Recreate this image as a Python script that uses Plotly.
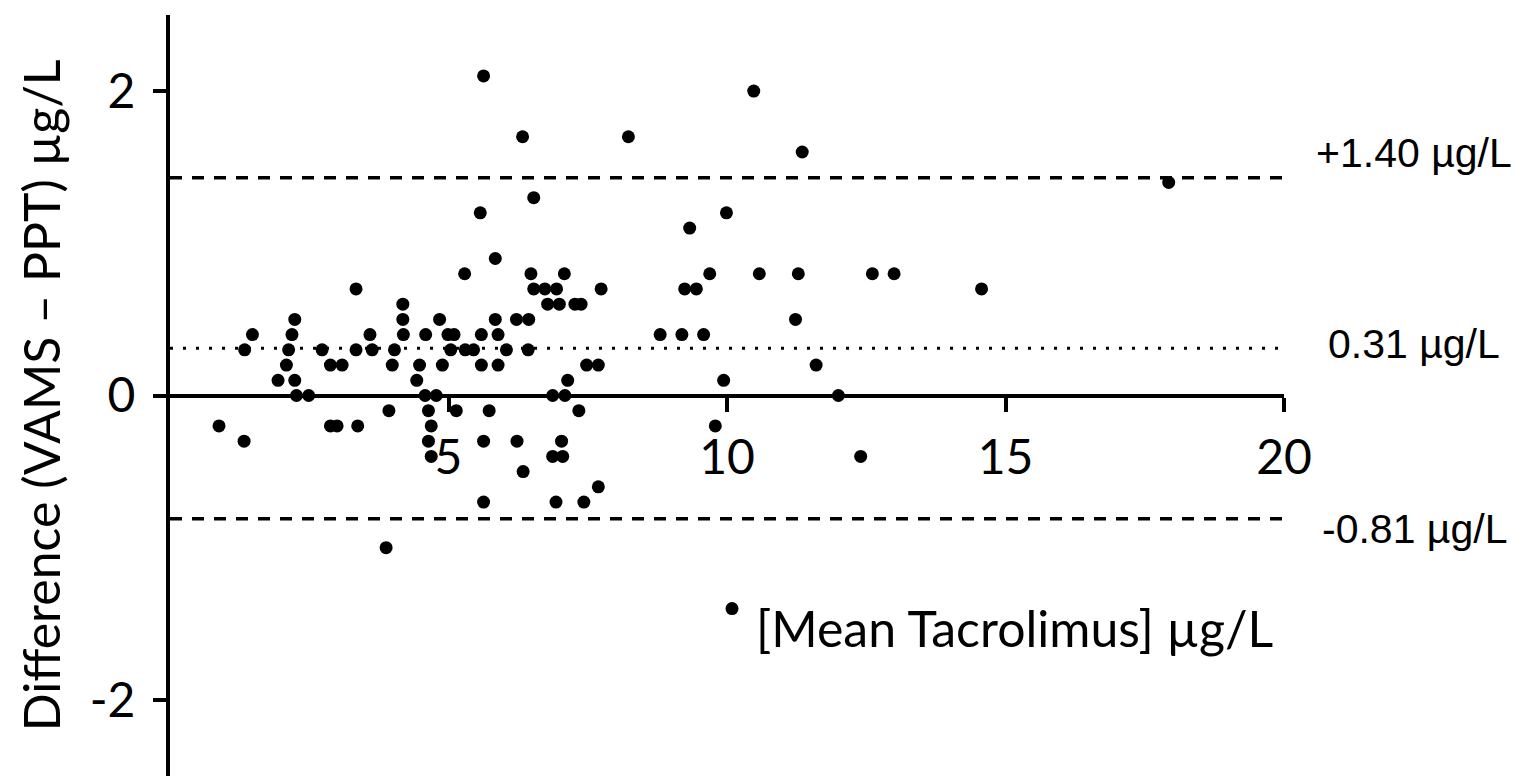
import plotly.graph_objects as go

# ---- data ----
mean_tac = [5.63, 10.48, 6.33, 8.23, 11.35, 17.93, 6.53, 5.57, 9.99, 9.33, 5.84,
            5.29, 6.48, 7.08, 9.69, 10.58, 11.28, 12.61, 13.0,
            3.34, 6.53, 6.73, 6.94, 7.74, 9.24, 9.45, 14.57,
            4.18, 6.78, 6.99, 7.27, 7.38,
            2.24, 4.18, 4.84, 5.84, 6.22, 6.44, 11.23,
            1.48, 2.19, 3.59, 4.19, 4.59, 4.99, 5.10, 5.59, 5.89, 8.80, 9.19, 9.58,
            1.34, 2.13, 2.73, 3.34, 3.63, 4.03, 5.04, 5.30, 5.45, 6.04, 6.43,
            2.09, 2.88, 3.09, 3.99, 4.48, 4.89, 5.59, 5.89, 7.48, 7.69, 11.6,
            1.94, 2.24, 4.43, 7.14, 9.94,
            2.27, 2.49, 4.58, 4.78, 6.87, 7.09, 12.0,
            3.93, 4.64, 5.14, 5.73, 7.34,
            0.88, 2.88, 3.0, 3.37, 4.69, 9.79,
            1.33, 4.64, 5.63, 6.23, 7.03,
            4.69, 6.87, 7.05, 12.4,
            6.34, 7.69, 5.63, 6.93, 7.43, 3.88, 10.09]

difference = [2.1, 2.0, 1.7, 1.7, 1.6, 1.4, 1.3, 1.2, 1.2, 1.1, 0.9,
              0.8, 0.8, 0.8, 0.8, 0.8, 0.8, 0.8, 0.8,
              0.7, 0.7, 0.7, 0.7, 0.7, 0.7, 0.7, 0.7,
              0.6, 0.6, 0.6, 0.6, 0.6,
              0.5, 0.5, 0.5, 0.5, 0.5, 0.5, 0.5,
              0.4, 0.4, 0.4, 0.4, 0.4, 0.4, 0.4, 0.4, 0.4, 0.4, 0.4, 0.4,
              0.3, 0.3, 0.3, 0.3, 0.3, 0.3, 0.3, 0.3, 0.3, 0.3, 0.3,
              0.2, 0.2, 0.2, 0.2, 0.2, 0.2, 0.2, 0.2, 0.2, 0.2, 0.2,
              0.1, 0.1, 0.1, 0.1, 0.1,
              0.0, 0.0, 0.0, 0.0, 0.0, 0.0, 0.0,
              -0.1, -0.1, -0.1, -0.1, -0.1,
              -0.2, -0.2, -0.2, -0.2, -0.2, -0.2,
              -0.3, -0.3, -0.3, -0.3, -0.3,
              -0.4, -0.4, -0.4, -0.4,
              -0.5, -0.6, -0.7, -0.7, -0.7, -1.0, -1.4]

bias = 0.31
upper_loa = 1.43
lower_loa = -0.81
line_labels = ["+1.40 µg/L", "0.31 µg/L", "-0.81 µg/L"]
x_ticks = [5, 10, 15, 20]
y_ticks = [-2, 0, 2]
x_span = [0, 20]
y_span = [-2.5, 2.5]

# ---- styling ----
TICK_FONT = dict(family="Lato, Calibri, sans-serif", size=48, color="black")
TITLE_FONT = dict(family="Lato, Calibri, sans-serif", size=50, color="black")
LABEL_FONT = dict(family="Liberation Sans, Arial, sans-serif", size=41, color="black")

fig = go.Figure()

for val, dash in [(upper_loa, "12px,10px"), (bias, "3px,10px"), (lower_loa, "12px,10px")]:
    fig.add_trace(go.Scatter(x=x_span, y=[val, val], mode="lines",
                             line=dict(color="black", width=3.5 if dash.startswith("12") else 3, dash=dash),
                             hoverinfo="skip", showlegend=False, cliponaxis=False))

fig.add_trace(go.Scatter(x=mean_tac, y=difference, mode="markers",
                         marker=dict(color="black", size=13, line=dict(width=0)),
                         showlegend=False, cliponaxis=False))

fig.update_layout(
    width=1532, height=768,
    margin=dict(l=162, r=256, t=7, b=0),
    paper_bgcolor="white", plot_bgcolor="white",
    xaxis=dict(range=x_span, tickvals=x_ticks, ticktext=[str(v) for v in x_ticks],
               showgrid=False, zeroline=False, showline=True, linecolor="black", linewidth=4,
               ticks="outside", ticklen=14, tickwidth=4, tickcolor="black",
               tickfont=TICK_FONT, anchor="free", position=0.5, ticklabelstandoff=5),
    yaxis=dict(range=y_span, tickvals=y_ticks, ticktext=[str(v) for v in y_ticks],
               showgrid=False, zeroline=False, showline=True, linecolor="black", linewidth=4,
               ticks="outside", ticklen=13, tickwidth=4, tickcolor="black",
               tickfont=TICK_FONT, ticklabelstandoff=8),
)

# line labels on the right
for val, txt, shift, xs in [(upper_loa, line_labels[0], 25, 30),
                            (bias, line_labels[1], 4, 42),
                            (lower_loa, line_labels[2], -10, 36)]:
    fig.add_annotation(x=1.0, xref="paper", y=val, yref="y", text=txt, showarrow=False,
                       xanchor="left", yanchor="middle", xshift=xs,
                       yshift=shift, font=LABEL_FONT)

# axis titles
fig.add_annotation(x=0.758, xref="paper", y=-1.53, yref="y", text="[Mean Tacrolimus] µg/L",
                   showarrow=False, xanchor="center", yanchor="middle", font=TITLE_FONT)
fig.add_annotation(x=-0.116, xref="paper", y=0, yref="y", text="Difference (VAMS – PPT) µg/L",
                   showarrow=False, textangle=-90, xanchor="center", yanchor="middle", font=TITLE_FONT)

fig.write_html("out.html")
